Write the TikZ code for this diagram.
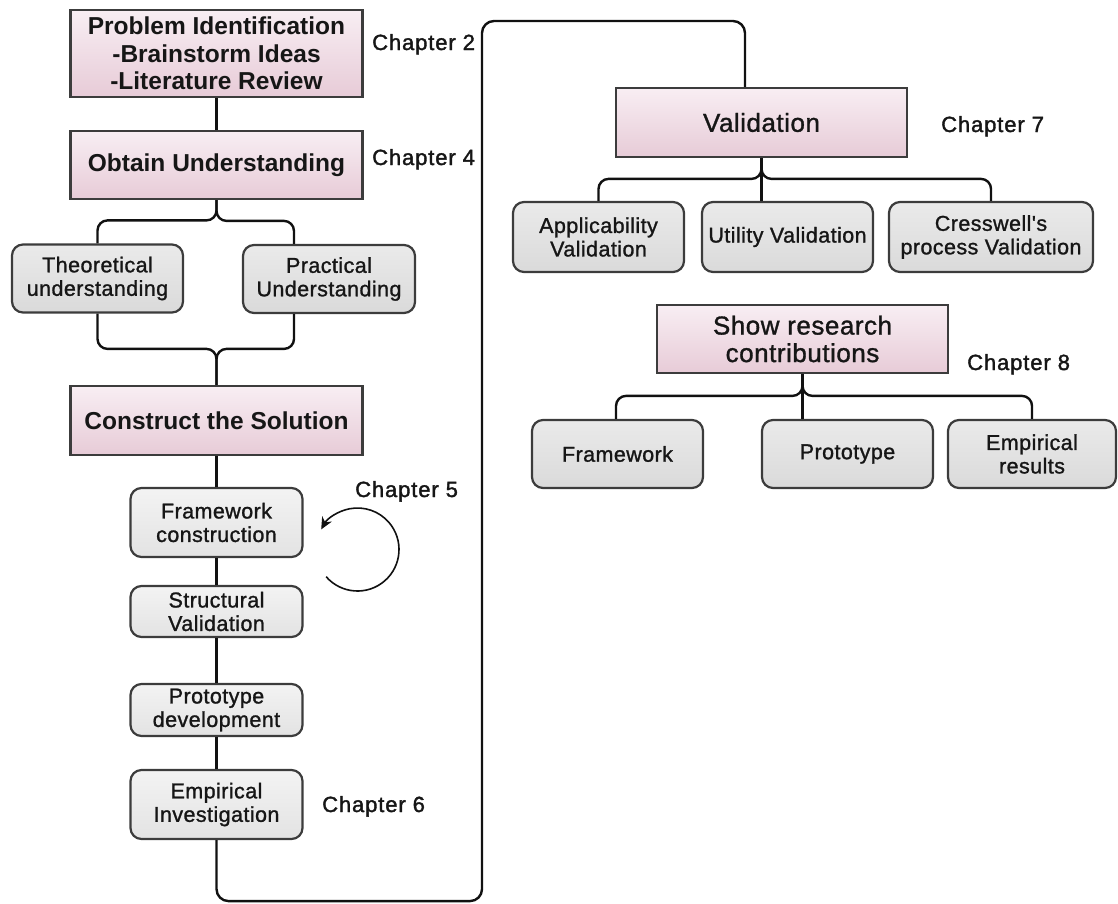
\documentclass[tikz,border=0pt]{standalone}
\usepackage{fontspec}
\setmainfont{Liberation Sans}
\newfontfamily\midfont[FakeBold=1.2,LetterSpace=2]{Liberation Sans}
\newfontfamily\chapfont[FakeBold=1.6,LetterSpace=4]{Liberation Sans}
\usetikzlibrary{arrows.meta}

\definecolor{pinktop}{HTML}{F8EEF3}
\definecolor{pinkbot}{HTML}{E7CBD7}
\definecolor{boxline}{HTML}{3C3C3C}
\definecolor{greytop}{HTML}{EAEAEA}
\definecolor{greybot}{HTML}{DADADA}
\definecolor{palegreytop}{HTML}{F3F3F3}
\definecolor{palegreybot}{HTML}{E3E3E3}
\definecolor{wire}{HTML}{111111}
\definecolor{ink}{HTML}{161616}

\tikzset{
  stage/.style={draw=boxline, line width=2.2pt, top color=pinktop, bottom color=pinkbot,
    minimum width=292pt, minimum height=68pt, inner sep=0pt, align=center, text=ink},
  stagebold/.style={stage, font=\bfseries\fontsize{24.5}{27.5}\selectfont},
  stageplain/.style={stage, font=\midfont\fontsize{26}{27.5}\selectfont},
  part/.style={draw=boxline, line width=2.2pt, rounded corners=11pt, top color=greytop, bottom color=greybot,
    minimum width=171pt, minimum height=68pt, inner sep=0pt, align=center, text=ink,
    font=\midfont\fontsize{21.5}{23.5}\selectfont},
  substep/.style={part, top color=palegreytop, bottom color=palegreybot, minimum width=172pt},
  chap/.style={anchor=base west, inner sep=0pt, text=ink, font=\chapfont\fontsize{22}{24}\selectfont},
  conn/.style={draw=wire, line width=2.4pt, rounded corners=10pt},
  loop/.style={draw=wire, line width=1.6pt, -{Stealth[length=12pt,width=11pt]}}
}

\begin{document}
\begin{tikzpicture}[x=1pt,y=1pt]
  \useasboundingbox (0,0) rectangle (1118,-903);

  % left column: main stages
  \node[stagebold, minimum height=87pt] (PI) at (216.5,-53.5)
    {Problem Identification\\-Brainstorm Ideas\\-Literature Review};
  \node[stagebold] (OU) at (216.5,-165) {Obtain Understanding};
  \node[part] (TU) at (97.5,-278.5) {Theoretical\\understanding};
  \node[part, minimum width=172pt] (PU) at (329,-279) {Practical\\Understanding};
  \node[stagebold, minimum height=69pt] (CS) at (216.5,-420.5) {Construct the Solution};

  % left column: construction steps
  \node[substep, minimum height=69pt] (FC) at (216.5,-522.5) {Framework\\construction};
  \node[substep, minimum height=51pt] (SV) at (216.5,-611.5) {Structural\\Validation};
  \node[substep, minimum height=52pt] (PD) at (216.5,-710) {Prototype\\development};
  \node[substep, minimum height=69pt] (EI) at (216.5,-804.5) {Empirical\\Investigation};

  % right column
  \node[stageplain, minimum width=291pt, minimum height=69pt] (VA) at (761.5,-122.5) {Validation};
  \node[part, minimum height=70pt] (AV) at (598.5,-237) {Applicability\\Validation};
  \node[part, minimum height=70pt] (UV) at (787.5,-237) {Utility Validation};
  \node[part, minimum width=204pt, minimum height=70pt] (CV) at (991,-237) {Cresswell's\\process Validation};
  \node[stageplain, minimum width=291pt] (SR) at (802.5,-339) {Show research\\contributions};
  \node[part] (FW) at (617.5,-454) {Framework};
  \node[part] (PT) at (847.5,-454) {Prototype};
  \node[part, minimum width=168pt] (ER) at (1032,-454) {Empirical\\results};

  % chapter labels
  \node[chap] (c2) at (372,-50) {Chapter 2};
  \node[chap] (c4) at (372,-165) {Chapter 4};
  \node[chap] (c5) at (355,-497) {Chapter 5};
  \node[chap] (c6) at (322,-812) {Chapter 6};
  \node[chap] (c7) at (941,-132) {Chapter 7};
  \node[chap] (c8) at (967,-370) {Chapter 8};

  % left column connectors
  \draw[conn] (PI.south) -- (OU.north);
  \draw[conn] (OU.south) |- ([yshift=23pt]TU.north) -- (TU.north);
  \draw[conn] (OU.south) |- ([xshift=-35pt,yshift=23pt]PU.north) -- ([xshift=-35pt]PU.north);
  \draw[conn] (TU.south) |- ([yshift=36pt]CS.north) -- (CS.north);
  \draw[conn] ([xshift=-35pt]PU.south) |- ([yshift=36pt]CS.north) -- (CS.north);
  \draw[conn] (CS.south) -- (FC.north);
  \draw[conn] (FC.south) -- (SV.north);
  \draw[conn] (SV.south) -- (PD.north);
  \draw[conn] (PD.south) -- (EI.north);

  % return path from the last step up to validation
  \draw[conn, rounded corners=12pt] (EI.south) -- ++(0,-61) -| (482,-21)
    -| ([xshift=-16.5pt]VA.north);

  % validation branches
  \draw[conn] (VA.south) |- ([yshift=22pt]AV.north) -- (AV.north);
  \draw[conn] (VA.south) -- (VA.south |- UV.north);
  \draw[conn] (VA.south) |- ([yshift=22pt]CV.north) -- (CV.north);

  % contribution branches
  \draw[conn] (SR.south) |- ([xshift=-1.5pt,yshift=23pt]FW.north) -- ([xshift=-1.5pt]FW.north);
  \draw[conn] (SR.south) -- (SR.south |- PT.north);
  \draw[conn] (SR.south) |- ([yshift=23pt]ER.north) -- (ER.north);

  % iteration arrow beside the construction steps
  \draw[loop] (357.5,-549.5) ++(221:41.5) arc[start angle=221, end angle=511, radius=41.5];
\end{tikzpicture}
\end{document}
